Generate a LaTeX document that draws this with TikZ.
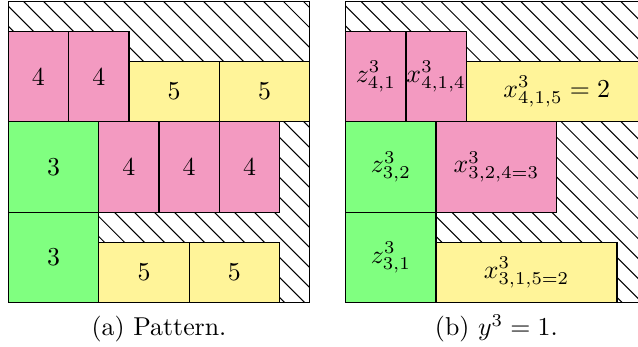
\documentclass[tikz,border=0pt]{standalone}
\definecolor{pinkc}{RGB}{243,154,193}
\definecolor{yellowc}{RGB}{255,244,153}
\definecolor{greenc}{RGB}{128,255,128}
\tikzset{
  box/.style={draw=black, line width=0.5pt, inner sep=0pt, outer sep=0pt, anchor=south west},
  pk/.style={box, fill=pinkc},
  yl/.style={box, fill=yellowc},
  gr/.style={box, fill=greenc},
  w2/.style={minimum width=0.82cm},
  w3/.style={minimum width=1.23cm},
  w4/.style={minimum width=1.64cm},
  w6/.style={minimum width=2.46cm},
  h2/.style={minimum height=0.82cm},
  h3/.style={minimum height=1.23cm},
  hatch/.style={line width=0.4pt, black},
  frame/.style={draw=black, line width=0.5pt},
  captext/.style={anchor=base}
}
\begin{document}
\begin{tikzpicture}[x=0.41cm, y=0.41cm]
\useasboundingbox (-0.275,-1.469) rectangle (20.886,10.04);
\clip (-0.275,-1.469) rectangle (20.886,10.04);
% ---------- panel (a) ----------
\begin{scope}
  \clip (0,0) rectangle (10,10);
  \foreach \k in {0,...,31} {
    \pgfmathsetmacro{\c}{0.555+\k*0.663}
    \draw[hatch] (\c,0) -- (\c-10,10);
  }
\end{scope}
\draw[frame] (0,0) rectangle (10,10);
\node[gr,w3,h3] (ag1) at (0,0) {3};
\node[yl,w3,h2] (ay1) at (3,0) {5};
\node[yl,w3,h2] (ay2) at (6,0) {5};
\node[gr,w3,h3] (ag2) at (0,3) {3};
\node[pk,w2,h3] (ap1) at (3,3) {4};
\node[pk,w2,h3] (ap2) at (5,3) {4};
\node[pk,w2,h3] (ap3) at (7,3) {4};
\node[pk,w2,h3] (ap4) at (0,6) {4};
\node[pk,w2,h3] (ap5) at (2,6) {4};
\node[yl,w3,h2] (ay3) at (4,6) {5};
\node[yl,w3,h2] (ay4) at (7,6) {5};
\node[captext] (capa) at (5,-1.088) {(a) Pattern.};
% ---------- panel (b) ----------
\begin{scope}[xshift=11.19*0.41cm]
  \begin{scope}
    \clip (0,0) rectangle (10,10);
    \foreach \k in {0,...,31} {
      \pgfmathsetmacro{\c}{0.555+\k*0.663}
      \draw[hatch] (\c,0) -- (\c-10,10);
    }
  \end{scope}
  \draw[frame] (0,0) rectangle (10,10);
  \node[pk,w2,h3] (bz1) at (0,6) {$z^3_{4,1}$};
  \node[pk,w2,h3] (bx1) at (2,6) {$x^3_{4,1,4}$};
  \node[yl,w6,h2] (bx2) at (4,6) {$x^3_{4,1,5}=2$};
  \node[gr,w3,h3] (bz2) at (0,3) {$z^3_{3,2}$};
  \node[pk,w4,h3] (bx3) at (3,3) {$x^3_{3,2,4=3}$};
  \node[gr,w3,h3] (bz3) at (0,0) {$z^3_{3,1}$};
  \node[yl,w6,h2] (bx4) at (3,0) {$x^3_{3,1,5=2}$};
  \node[captext] (capb) at (5,-1.088) {(b) $y^3=1$.};
\end{scope}
\end{tikzpicture}
\end{document}
